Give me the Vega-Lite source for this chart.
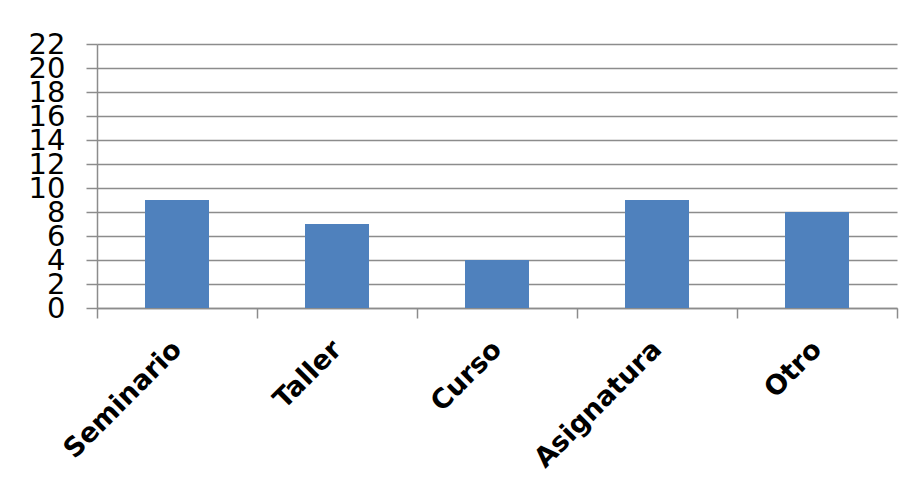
{
  "$schema": "https://vega.github.io/schema/vega-lite/v6.json",
  "autosize": {"type": "none"},
  "width": 800,
  "height": 264,
  "padding": {"left": 97, "top": 44, "right": 15, "bottom": 182},
  "background": "#ffffff",
  "data": {
    "values": [
      {"tipo": "Seminario", "valor": 9},
      {"tipo": "Taller", "valor": 7},
      {"tipo": "Curso", "valor": 4},
      {"tipo": "Asignatura", "valor": 9},
      {"tipo": "Otro", "valor": 8}
    ]
  },
  "mark": {"type": "bar", "color": "#4f81bd", "width": {"band": 0.4}},
  "encoding": {
    "x": {
      "field": "tipo",
      "type": "nominal",
      "sort": null,
      "scale": {"paddingInner": 0, "paddingOuter": 0},
      "axis": {
        "title": null,
        "tickBand": "extent",
        "labelAngle": -45,
        "labelAlign": "right",
        "labelBaseline": "middle",
        "labelFont": "DejaVu Sans",
        "labelFontWeight": "bold",
        "labelFontSize": 27,
        "labelColor": "#000000",
        "labelPadding": 27,
        "tickSize": 10,
        "tickColor": "#8c8c8c",
        "tickWidth": 1.5,
        "domainColor": "#8c8c8c",
        "domainWidth": 1.5,
        "grid": false
      }
    },
    "y": {
      "field": "valor",
      "type": "quantitative",
      "scale": {"domain": [0, 22], "nice": false},
      "axis": {
        "title": null,
        "values": [0, 2, 4, 6, 8, 10, 12, 14, 16, 18, 20, 22],
        "labelFont": "DejaVu Sans",
        "labelFontSize": 29,
        "labelColor": "#000000",
        "labelPadding": 21,
        "labelOverlap": false,
        "labelFlush": false,
        "tickSize": 11,
        "tickColor": "#8c8c8c",
        "tickWidth": 1.5,
        "domainColor": "#8c8c8c",
        "domainWidth": 1.5,
        "grid": true,
        "gridColor": "#8c8c8c",
        "gridWidth": 1.5
      }
    }
  },
  "config": {"view": {"stroke": null}}
}
